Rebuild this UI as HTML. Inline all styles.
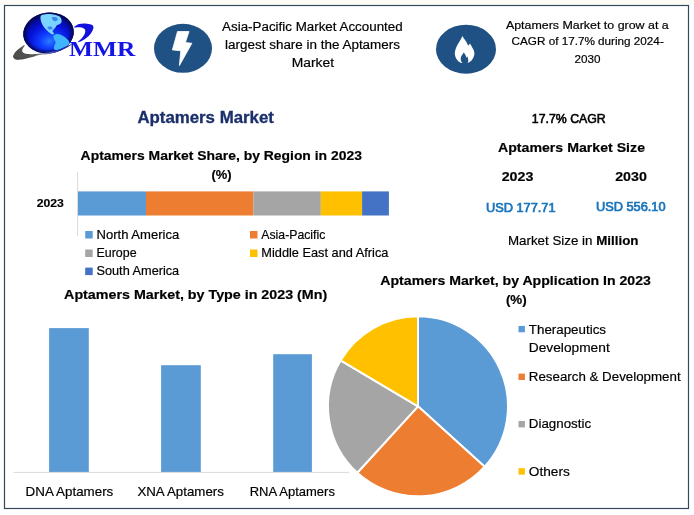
<!DOCTYPE html>
<html><head><meta charset="utf-8">
<style>
html,body{margin:0;padding:0;background:#fff;}
body{width:694px;height:515px;overflow:hidden;position:relative;}
svg{position:absolute;left:0;top:0;display:block;}
text{font-family:"Liberation Sans",sans-serif;fill:#000;stroke:#000;stroke-width:0.18px;}
.b{font-weight:bold;}
.serif{font-family:"Liberation Serif",serif;}
</style></head><body>
<svg width="694" height="515" viewBox="0 0 694 515">
<defs>
<radialGradient id="gg" cx="0.5" cy="0.7" r="0.62">
<stop offset="0" stop-color="#2a7cff"/><stop offset="0.3" stop-color="#0f3cff"/><stop offset="0.65" stop-color="#0612d8"/><stop offset="1" stop-color="#03088a"/>
</radialGradient>
<radialGradient id="gs" cx="0.5" cy="0.5" r="0.5">
<stop offset="0.78" stop-color="#04053c" stop-opacity="0"/><stop offset="1" stop-color="#04053c" stop-opacity="0.85"/>
</radialGradient>
<linearGradient id="sw" gradientUnits="userSpaceOnUse" x1="13" y1="0" x2="73" y2="0">
<stop offset="0" stop-color="#4a4a4a"/><stop offset="0.35" stop-color="#505050"/><stop offset="0.5" stop-color="#8a8a96"/><stop offset="0.62" stop-color="#5a6ac0"/><stop offset="0.8" stop-color="#1a22b0"/><stop offset="1" stop-color="#0a0a80"/>
</linearGradient>
<linearGradient id="sw2" x1="0" y1="0" x2="0" y2="1">
<stop offset="0" stop-color="#fff" stop-opacity="0.12"/><stop offset="0.6" stop-color="#fff" stop-opacity="0"/><stop offset="1" stop-color="#000" stop-opacity="0.15"/>
</linearGradient>
</defs>
<rect x="0" y="0" width="694" height="515" fill="#ffffff"/>
<rect x="0" y="0" width="694" height="5" fill="#fdfbf6"/>
<rect x="4.5" y="5.5" width="684" height="503" fill="#fff" stroke="#34495e" stroke-width="1.2"/>

<!-- logo -->
<g id="logo">
<ellipse cx="48.5" cy="33" rx="25.4" ry="20.3" fill="url(#gg)" transform="rotate(-7 48.5 33)"/>
<ellipse cx="48.5" cy="33" rx="25.4" ry="20.3" fill="url(#gs)" transform="rotate(-7 48.5 33)"/>
<path d="M40.8,15.8 C41.3,14.9 42.6,14.8 43.7,14.5 C44.8,14.2 45.9,14.0 47.5,14.0 C49.1,14.0 51.6,14.1 53.5,14.5 C55.4,14.9 57.8,15.6 59.1,16.3 C60.4,17.0 60.9,17.9 61.3,18.9 C61.7,19.9 61.8,21.2 61.5,22.1 C61.2,23.0 60.3,23.8 59.5,24.3 C58.7,24.9 57.4,24.8 56.7,25.4 C56.0,25.9 55.9,26.9 55.4,27.6 C54.9,28.3 54.0,29.1 53.5,29.7 C53.0,30.3 52.5,30.8 52.6,31.4 C52.7,32.0 54.0,32.7 54.0,33.2 C54.0,33.7 53.5,34.5 52.9,34.5 C52.3,34.5 51.1,33.8 50.2,33.2 C49.3,32.6 48.4,31.9 47.5,31.0 C46.6,30.1 45.5,29.2 44.6,28.1 C43.7,27.0 42.9,25.7 42.2,24.3 C41.6,22.9 40.9,21.4 40.7,20.0 C40.5,18.6 40.3,16.7 40.8,15.8 Z" fill="#7ad4ff"/>
<path d="M52.2,17.1 C52.8,16.7 55.3,16.9 56.2,17.3 C57.1,17.7 58.0,19.0 57.8,19.7 C57.6,20.4 56.0,21.3 55.1,21.3 C54.2,21.3 53.1,20.4 52.6,19.7 C52.1,19.0 51.6,17.5 52.2,17.1 Z" fill="#2a6ae6" opacity="0.75"/>
<path d="M47.5,27.1 C47.9,26.6 50.7,26.4 51.5,26.7 C52.3,27.0 52.8,28.4 52.4,28.9 C52.0,29.4 49.9,29.8 49.1,29.5 C48.3,29.2 47.1,27.6 47.5,27.1 Z" fill="#2a6ae6" opacity="0.75"/>
<path d="M53.6,35.4 C54.3,34.5 56.4,33.8 58,33.9 C59.6,34.0 61.9,35.3 63.5,36.3 C65.1,37.3 66.8,38.8 67.8,39.8 C68.8,40.8 69.4,41.7 69.4,42.6 C69.4,43.5 68.8,44.4 67.7,45.3 C66.6,46.2 64.6,47.2 63,48 C61.4,48.8 59.5,49.5 58,49.8 C56.5,50.1 54.9,50.2 54.3,49.6 C53.7,49.0 54.0,47.2 54.2,46 C54.4,44.8 55.6,43.7 55.6,42.5 C55.6,41.3 54.3,40.2 54,39 C53.7,37.8 52.9,36.2 53.6,35.4 Z" fill="#3fb4ff"/>
<path d="M13.2,57.3 C13.6,58.0 14.4,59.0 15.8,59.4 C17.2,59.8 19.6,59.7 21.5,59.5 C23.4,59.3 25.4,58.8 27.3,58.3 C29.2,57.8 31.2,57.4 33.1,56.8 C35.0,56.2 36.5,55.3 38.8,54.9 C41.1,54.5 44.2,54.7 46.9,54.3 C49.6,53.9 52.5,53.3 55,52.6 C57.5,51.9 59.8,50.9 62,50 C64.2,49.1 66.2,48.1 68,47 C69.8,45.9 72.6,43.4 72.6,43.2 C72.6,43.0 69.8,44.7 68,45.6 C66.2,46.5 64.2,47.7 62,48.6 C59.8,49.5 57.5,50.3 55,51 C52.5,51.7 49.5,52.4 47,52.8 C44.5,53.2 41.9,53.2 40,53.4 C38.1,53.6 37.5,53.8 35.9,53.9 C34.3,54.0 32.0,54.2 30.2,54.2 C28.4,54.2 26.3,54.0 25,53.6 C23.7,53.2 22.8,52.5 22.4,51.8 C22.0,51.1 22.1,50.4 22.5,49.3 C22.9,48.2 25.1,45.2 24.6,45.0 C24.2,44.8 21.3,47.0 19.8,48.1 C18.3,49.2 16.9,50.5 15.8,51.6 C14.8,52.8 13.9,54.0 13.5,55 C13.1,56.0 12.8,56.6 13.2,57.3 Z" fill="url(#sw)"/>
<path d="M13.2,57.3 C13.6,58.0 14.4,59.0 15.8,59.4 C17.2,59.8 19.6,59.7 21.5,59.5 C23.4,59.3 25.4,58.8 27.3,58.3 C29.2,57.8 31.2,57.4 33.1,56.8 C35.0,56.2 36.5,55.3 38.8,54.9 C41.1,54.5 44.2,54.7 46.9,54.3 C49.6,53.9 52.5,53.3 55,52.6 C57.5,51.9 59.8,50.9 62,50 C64.2,49.1 66.2,48.1 68,47 C69.8,45.9 72.6,43.4 72.6,43.2 C72.6,43.0 69.8,44.7 68,45.6 C66.2,46.5 64.2,47.7 62,48.6 C59.8,49.5 57.5,50.3 55,51 C52.5,51.7 49.5,52.4 47,52.8 C44.5,53.2 41.9,53.2 40,53.4 C38.1,53.6 37.5,53.8 35.9,53.9 C34.3,54.0 32.0,54.2 30.2,54.2 C28.4,54.2 26.3,54.0 25,53.6 C23.7,53.2 22.8,52.5 22.4,51.8 C22.0,51.1 22.1,50.4 22.5,49.3 C22.9,48.2 25.1,45.2 24.6,45.0 C24.2,44.8 21.3,47.0 19.8,48.1 C18.3,49.2 16.9,50.5 15.8,51.6 C14.8,52.8 13.9,54.0 13.5,55 C13.1,56.0 12.8,56.6 13.2,57.3 Z" fill="url(#sw2)"/>
<path d="M74.1,27.3 C73.9,26.8 77.1,24.7 79.0,24.1 C80.9,23.5 83.3,23.4 85.3,23.5 C87.3,23.6 89.8,24.1 91.1,24.6 C92.4,25.1 93.2,25.6 93.4,26.7 C93.6,27.8 93.1,29.7 92.2,31.3 C91.3,32.9 89.8,35.0 88.2,36.5 C86.6,38.0 84.1,39.5 82.4,40.5 C80.7,41.5 78.0,42.5 77.8,42.2 C77.6,41.9 80.2,40.0 81.3,38.8 C82.4,37.5 83.5,36.0 84.2,34.7 C84.9,33.5 85.3,32.3 85.3,31.3 C85.3,30.3 85.1,29.5 84.2,28.8 C83.3,28.1 81.8,27.6 80.1,27.3 C78.4,27.1 74.3,27.8 74.1,27.3 Z" fill="#1212dc"/>
<text class="serif b" x="69.1" y="55.5" font-size="20.3" textLength="66.2" lengthAdjust="spacingAndGlyphs" style="fill:#1414e4;stroke:none">MMR</text>
</g>

<!-- header icons -->
<ellipse cx="183" cy="48.3" rx="29" ry="24.5" fill="#1f5184"/>
<path d="M177.5,31.5 L189,31.5 L185.4,42.5 L191.9,43.3 L179.4,65.6 L180.8,50.8 L172.4,49.9 Z" fill="#fff" stroke="#fff" stroke-width="0.8" stroke-linejoin="round"/>
<ellipse cx="466" cy="49.2" rx="30" ry="24.5" fill="#1f5184"/>
<path id="flame" d="M462.3,36 C463.2,37.6 464.4,39 465.2,40.2 C466.3,41.8 467.2,43.4 467.7,44.8 C468,45.3 468.3,45.5 468.5,45.4 C469.1,45 469.5,44.2 469.8,43.5 C470.8,44.6 471.6,46 472.1,47.2 C473,48.8 474,50.4 474.2,51.7 C474.6,53.4 474.4,55.2 473.8,56.6 C473.3,58.2 472.4,59.6 471.3,60.7 C470.3,61.7 469,62.5 467.5,62.9 C468.3,61.9 468.5,60.6 468.1,59.3 C467.9,58.2 467.7,57.1 467.4,56.2 C467.1,56.8 466.8,57.4 466.4,57.8 C466.1,56.4 465.6,55.1 464.9,54.1 C464.5,53.5 464.1,53 463.6,52.5 C463.2,53.6 462.5,54.4 461.9,55.3 C461.2,56.3 460.7,57.4 460.7,58.6 C460.6,59.7 460.8,60.8 461.3,61.6 C461.6,62.2 462,62.7 462.4,63.1 C461.8,63 461.2,62.9 460.7,62.7 C459.4,62.2 458.3,61.3 457.4,60.2 C456.3,59 455.5,57.5 455.1,55.8 C454.7,54.2 454.7,52.5 455.1,50.9 C455.6,48.8 456.4,46.9 457.4,45.1 C458.3,43.4 459.4,41.7 460.3,40.2 C461,38.9 461.8,37.5 462.3,36 Z" fill="#fff"/>

<!-- header texts -->
<g font-size="12">
<text x="222.1" y="30.8" textLength="180.6" lengthAdjust="spacingAndGlyphs">Asia-Pacific Market Accounted</text>
<text x="225.1" y="48.5" textLength="174.9" lengthAdjust="spacingAndGlyphs">largest share in the Aptamers</text>
<text x="291.7" y="67.2" textLength="42.3" lengthAdjust="spacingAndGlyphs">Market</text>
</g>
<g font-size="10.8">
<text x="505.9" y="29.2" textLength="162.8" lengthAdjust="spacingAndGlyphs">Aptamers Market to grow at a</text>
<text x="511.6" y="45.2" textLength="152.2" lengthAdjust="spacingAndGlyphs">CAGR of 17.7% during 2024-</text>
<text x="574.4" y="62.7" textLength="26" lengthAdjust="spacingAndGlyphs">2030</text>
</g>

<!-- main title -->
<text class="b" x="137.4" y="123.1" font-size="15.6" textLength="136.5" lengthAdjust="spacingAndGlyphs" style="fill:#1b2f6b;stroke:#1b2f6b;stroke-width:0.3px">Aptamers Market</text>

<!-- region chart -->
<text class="b" x="80.6" y="159.7" font-size="12.7" textLength="281.3" lengthAdjust="spacingAndGlyphs">Aptamers Market Share, by Region in 2023</text>
<text class="b" x="211.5" y="179" font-size="12.7" textLength="20.1" lengthAdjust="spacingAndGlyphs">(%)</text>
<line x1="77.6" y1="172" x2="77.6" y2="236" stroke="#d9d9d9" stroke-width="1"/>
<rect x="78" y="191.4" width="68" height="24.1" fill="#5b9bd5"/>
<rect x="146" y="191.4" width="107.3" height="24.1" fill="#ed7d31"/>
<rect x="253.3" y="191.4" width="67.5" height="24.1" fill="#a5a5a5"/>
<rect x="320.8" y="191.4" width="41.3" height="24.1" fill="#ffc000"/>
<rect x="362.1" y="191.4" width="26.8" height="24.1" fill="#4472c4"/>
<text class="b" x="36.8" y="207.1" font-size="11.5" textLength="27.1" lengthAdjust="spacingAndGlyphs">2023</text>

<g font-size="11.9">
<rect x="85.2" y="231" width="7.5" height="7.5" fill="#5b9bd5"/>
<text x="96.5" y="238.8" textLength="82.7" lengthAdjust="spacingAndGlyphs">North America</text>
<rect x="85.2" y="249.5" width="7.5" height="7.5" fill="#a5a5a5"/>
<text x="96.5" y="256.8" textLength="40.1" lengthAdjust="spacingAndGlyphs">Europe</text>
<rect x="85.2" y="267.6" width="7.5" height="7.5" fill="#4472c4"/>
<text x="96.5" y="274.9" textLength="82.7" lengthAdjust="spacingAndGlyphs">South America</text>
<rect x="250" y="231" width="7.5" height="7.5" fill="#ed7d31"/>
<text x="261.3" y="238.8" textLength="64" lengthAdjust="spacingAndGlyphs">Asia-Pacific</text>
<rect x="250" y="249.5" width="7.5" height="7.5" fill="#ffc000"/>
<text x="261.3" y="256.8" textLength="127.1" lengthAdjust="spacingAndGlyphs">Middle East and Africa</text>
</g>

<!-- type chart -->
<text class="b" x="64.1" y="298.8" font-size="12.7" textLength="263.1" lengthAdjust="spacingAndGlyphs">Aptamers Market, by Type in 2023 (Mn)</text>
<rect x="49.1" y="328.1" width="39.7" height="144" fill="#5b9bd5"/>
<rect x="161.1" y="365.2" width="39.7" height="107" fill="#5b9bd5"/>
<rect x="273.2" y="354.2" width="38.7" height="118" fill="#5b9bd5"/>
<line x1="13.8" y1="472.4" x2="349" y2="472.4" stroke="#d9d9d9" stroke-width="1"/>
<g font-size="12.7">
<text x="25.6" y="495.6" textLength="87.7" lengthAdjust="spacingAndGlyphs">DNA Aptamers</text>
<text x="137.4" y="495.6" textLength="86.5" lengthAdjust="spacingAndGlyphs">XNA Aptamers</text>
<text x="249.7" y="495.6" textLength="85.2" lengthAdjust="spacingAndGlyphs">RNA Aptamers</text>
</g>

<!-- right stats -->
<text x="531.8" y="122.8" font-size="12" textLength="73.9" lengthAdjust="spacingAndGlyphs" style="stroke:#000;stroke-width:0.55">17.7% CAGR</text>
<text class="b" x="498" y="151.7" font-size="13.3" textLength="147" lengthAdjust="spacingAndGlyphs">Aptamers Market Size</text>
<text class="b" x="501.7" y="181.4" font-size="13.3" textLength="31.7" lengthAdjust="spacingAndGlyphs">2023</text>
<text class="b" x="615.2" y="181.4" font-size="13.3" textLength="31.7" lengthAdjust="spacingAndGlyphs">2030</text>
<text x="485.9" y="211.6" font-size="12.3" textLength="69.7" lengthAdjust="spacingAndGlyphs" style="fill:#1b75bc;stroke:#1b75bc;stroke-width:0.7">USD 177.71</text>
<text x="595.9" y="211" font-size="12.3" textLength="69.7" lengthAdjust="spacingAndGlyphs" style="fill:#1b75bc;stroke:#1b75bc;stroke-width:0.7">USD 556.10</text>
<text x="507.9" y="244.6" font-size="12.7" textLength="130.6" lengthAdjust="spacingAndGlyphs">Market Size in <tspan class="b">Million</tspan></text>

<!-- pie -->
<text class="b" x="380.3" y="284.6" font-size="12.7" textLength="270.6" lengthAdjust="spacingAndGlyphs">Aptamers Market, by Application In 2023</text>
<text class="b" x="505.9" y="304.4" font-size="12.7" textLength="20.8" lengthAdjust="spacingAndGlyphs">(%)</text>
<g id="pie" stroke="#fff" stroke-width="2" stroke-linejoin="round">
<path d="M418.0,406.3 L418.00,316.30 A90.0,90.0 0 0 1 484.67,466.75 Z" fill="#5b9bd5"/>
<path d="M418.0,406.3 L484.67,466.75 A90.0,90.0 0 0 1 357.31,472.76 Z" fill="#ed7d31"/>
<path d="M418.0,406.3 L357.31,472.76 A90.0,90.0 0 0 1 340.57,360.42 Z" fill="#a5a5a5"/>
<path d="M418.0,406.3 L340.57,360.42 A90.0,90.0 0 0 1 418.00,316.30 Z" fill="#ffc000"/>
</g>

<g font-size="12.5">
<rect x="518.5" y="325.9" width="6.4" height="6.4" fill="#5b9bd5"/>
<text x="528.8" y="334.4" textLength="77.2" lengthAdjust="spacingAndGlyphs">Therapeutics</text>
<text x="528.8" y="351.9" textLength="80.9" lengthAdjust="spacingAndGlyphs">Development</text>
<rect x="518.5" y="373.6" width="6.4" height="6.4" fill="#ed7d31"/>
<text x="528.8" y="381" textLength="151.8" lengthAdjust="spacingAndGlyphs">Research &amp; Development</text>
<rect x="518.5" y="421" width="6.4" height="6.4" fill="#a5a5a5"/>
<text x="528.8" y="427.8" textLength="62.3" lengthAdjust="spacingAndGlyphs">Diagnostic</text>
<rect x="518.5" y="468.2" width="6.4" height="6.4" fill="#ffc000"/>
<text x="528.8" y="475.6" textLength="41" lengthAdjust="spacingAndGlyphs">Others</text>
</g>
</svg>
</body></html>
